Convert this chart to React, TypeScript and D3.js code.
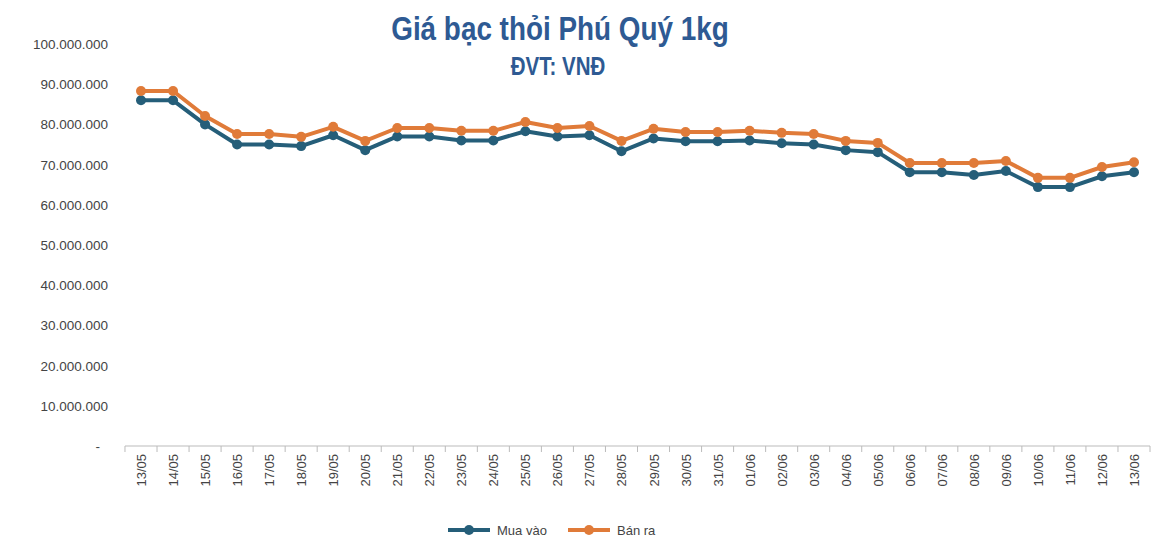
import React from "react";
import * as d3 from "d3";

const categories = ["13/05","14/05","15/05","16/05","17/05","18/05","19/05","20/05","21/05","22/05","23/05","24/05","25/05","26/05","27/05","28/05","29/05","30/05","31/05","01/06","02/06","03/06","04/06","05/06","06/06","07/06","08/06","09/06","10/06","11/06","12/06","13/06"];
const muaVao = [86.0,86.0,80.0,75.0,75.0,74.6,77.3,73.6,77.0,77.0,76.0,76.0,78.3,77.0,77.3,73.3,76.5,75.8,75.8,76.0,75.3,75.0,73.6,73.1,68.1,68.1,67.4,68.4,64.4,64.4,67.1,68.1].map(v => v * 1e6);
const banRa = [88.3,88.3,82.1,77.6,77.6,76.9,79.4,75.9,79.1,79.1,78.4,78.4,80.6,79.1,79.6,75.9,78.9,78.1,78.1,78.4,77.9,77.6,75.9,75.4,70.4,70.4,70.4,70.9,66.7,66.7,69.4,70.6].map(v => v * 1e6);
const yTicks = [0,10,20,30,40,50,60,70,80,90,100].map(v => v * 1e6);
const series = [
  { name: "Mua vào", color: "#255E79", values: muaVao },
  { name: "Bán ra", color: "#E07B39", values: banRa },
];

const fmt = (v: number) => v === 0 ? "-" : d3.format(",")(v).replace(/,/g, ".");

export default function App() {
  const x = d3.scalePoint<string>().domain(categories).range([141, 1134]);
  const y = d3.scaleLinear().domain([0, 100e6]).range([446, 44]);
  const line = d3.line<number>().x((_, i) => x(categories[i])!).y(d => y(d));
  const font = "'Liberation Sans', Arial, sans-serif";
  const step = x.step();
  return (
    <svg width={1158} height={552} style={{ position: "absolute", left: 0, top: 0, background: "#fff" }} fontFamily={font}>
      <text x={560} y={40} textAnchor="middle" fontSize={34} fontWeight="bold" fill="#2E5A93" transform="translate(560,0) scale(0.82,1) translate(-560,0)">Giá bạc thỏi Phú Quý 1kg</text>
      <text x={558} y={75} textAnchor="middle" fontSize={25} fontWeight="bold" fill="#2E5A93" transform="translate(558,0) scale(0.82,1) translate(-558,0)">ĐVT: VNĐ</text>
      {yTicks.map(t => (
        <text key={t} x={t === 0 ? 100 : 108} y={y(t) + 5} textAnchor="end" fontSize={13.5} fill="#444">{fmt(t)}</text>
      ))}
      <line x1={125} x2={1150} y1={446} y2={446} stroke="#bbb" />
      {categories.map((c, i) => (
        <g key={c}>
          <line x1={x(c)! - step / 2} x2={x(c)! - step / 2} y1={446} y2={452} stroke="#bbb" />
          {i === categories.length - 1 && <line x1={x(c)! + step / 2} x2={x(c)! + step / 2} y1={446} y2={452} stroke="#bbb" />}
          <text transform={`translate(${x(c)! + 5},454) rotate(-90)`} textAnchor="end" fontSize={13} fill="#444">{c}</text>
        </g>
      ))}
      {series.map(s => (
        <g key={s.name}>
          <path d={line(s.values)!} fill="none" stroke={s.color} strokeWidth={4} strokeLinejoin="round" />
          {s.values.map((v, i) => <circle key={i} cx={x(categories[i])} cy={y(v)} r={5} fill={s.color} />)}
        </g>
      ))}
      {series.map((s, i) => {
        const lx = 448 + i * 120;
        return (
          <g key={s.name}>
            <line x1={lx} x2={lx + 42} y1={530} y2={530} stroke={s.color} strokeWidth={4} />
            <circle cx={lx + 21} cy={530} r={5} fill={s.color} />
            <text x={lx + 49} y={535} fontSize={13} fill="#444">{s.name}</text>
          </g>
        );
      })}
    </svg>
  );
}
